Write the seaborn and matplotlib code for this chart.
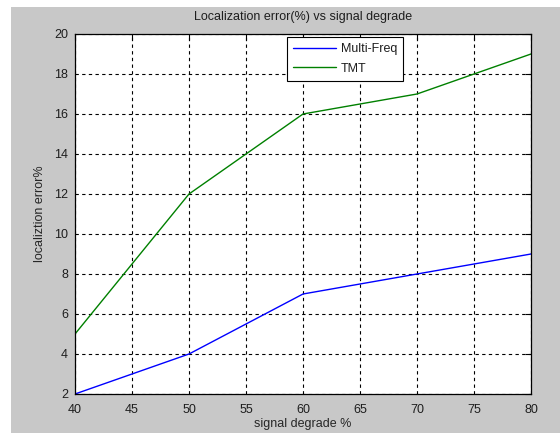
import numpy as np
import pandas as pd
import matplotlib
matplotlib.use("Agg")
import matplotlib.pyplot as plt
import seaborn as sns
from matplotlib.patches import Rectangle

# Signal degradation levels (%) and localization error (%) for each method
signal_degrade = [40, 50, 60, 70, 80]
multi_freq = [2, 4, 7, 8, 9]
tmt = [5, 12, 16, 17, 19]
x_ticks = [40, 45, 50, 55, 60, 65, 70, 75, 80]
y_ticks = [2, 4, 6, 8, 10, 12, 14, 16, 18, 20]

sns.set_style("white")
plt.rcParams["font.family"] = ["Liberation Sans", "DejaVu Sans"]
plt.rcParams["text.color"] = "#1e1e1e"
plt.rcParams["xtick.color"] = "#1e1e1e"
plt.rcParams["ytick.color"] = "#1e1e1e"

df = pd.DataFrame({
    "signal degrade": signal_degrade * 2,
    "error": multi_freq + tmt,
    "method": ["Multi-Freq"] * len(signal_degrade) + ["TMT"] * len(signal_degrade),
})

fig = plt.figure(figsize=(5.6, 4.33), dpi=100, facecolor="white")
# grey figure panel
fig.patches.append(Rectangle((11 / 560, 0), 1 - 11 / 560, 1 - 7 / 433,
                             transform=fig.transFigure, facecolor="#c8c8c8",
                             edgecolor="none", zorder=-10))
ax = fig.add_axes([75 / 560, 39 / 433, 456 / 560, 360 / 433])
ax.set_facecolor("white")

sns.lineplot(data=df, x="signal degrade", y="error", hue="method",
             palette={"Multi-Freq": "#0000ff", "TMT": "#008000"},
             linewidth=1.0, ax=ax, legend=True)

ax.set_xlim(40, 80)
ax.set_ylim(2, 20)
ax.set_xticks(x_ticks)
ax.set_yticks(y_ticks)
ax.tick_params(direction="in", length=4, width=0.8, top=True, right=True,
               labelsize=9, color="black")
ax.tick_params(axis="x", pad=7)
ax.tick_params(axis="y", pad=5)
for s in ax.spines.values():
    s.set_visible(True)
    s.set_color("black")
    s.set_linewidth(0.9)
ax.grid(True, color="black", linestyle=(0, (3, 3)), linewidth=0.8)

ax.set_title("Localization error(%) vs signal degrade", fontsize=9, pad=10)
ax.set_xlabel("signal degrade %", fontsize=9, labelpad=1.5)
ax.set_ylabel("localiztion error%", fontsize=9, labelpad=6)

leg = ax.legend(loc="upper left", bbox_to_anchor=((287 - 75) / 456, 1 - 3 / 360),
                frameon=True, fancybox=False, fontsize=9, handlelength=3.4,
                borderpad=0.5, labelspacing=0.6, handletextpad=0.4,
                borderaxespad=0)
leg.get_frame().set_edgecolor("black")
leg.get_frame().set_linewidth(0.8)
leg.get_frame().set_alpha(1)

fig.savefig("out.png", dpi=100, facecolor=fig.get_facecolor())
